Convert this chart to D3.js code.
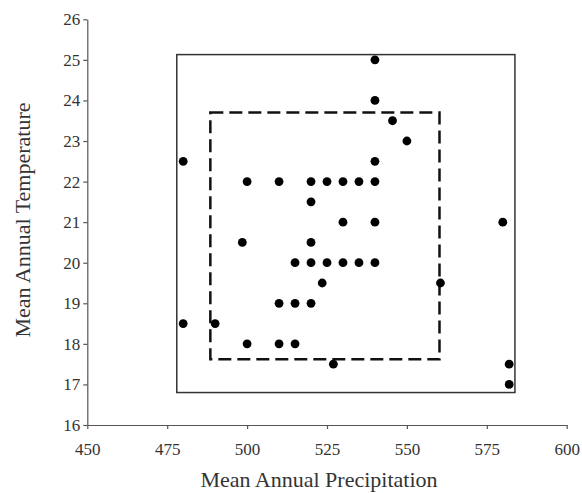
<!DOCTYPE html>
<html><head><meta charset="utf-8">
<script src="https://cdn.jsdelivr.net/npm/d3@7"></script>
<style>body{margin:0;background:#fff}</style>
</head><body>
<svg id="c" width="582" height="493"></svg>
<script>
const precip = [540,540,545.5,550,480,540,500,510,520,525,530,535,540,520,530,540,580,498.5,520,515,520,525,530,535,540,523.5,560.5,510,515,520,480,490,500,510,515,527,582,582];
const temp   = [25,24,23.5,23,22.5,22.5,22,22,22,22,22,22,22,21.5,21,21,21,20.5,20.5,20,20,20,20,20,20,19.5,19.5,19,19,19,18.5,18.5,18,18,18,17.5,17.5,17];
const xTicks = [450,475,500,525,550,575,600];
const yTicks = [16,17,18,19,20,21,22,23,24,25,26];
const solidBox = {x0:478, x1:583.8, y0:16.8, y1:25.13};
const dashedBox = {x0:488.5, x1:560.2, y0:17.62, y1:23.7};

const svg = d3.select("#c");
const x = d3.scaleLinear().domain([450,600]).range([87.3,566.7]);
const y = d3.scaleLinear().domain([16,26]).range([425,19.3]);
const font = "'Liberation Serif','Times New Roman',serif";

const xa = svg.append("g").attr("transform",`translate(0,${y(16)})`)
  .call(d3.axisBottom(x).tickValues(xTicks).tickSize(4).tickSizeOuter(0).tickPadding(14));
const ya = svg.append("g").attr("transform",`translate(${x(450)},0)`)
  .call(d3.axisLeft(y).tickValues(yTicks).tickSize(4).tickSizeOuter(0).tickPadding(3));
[xa,ya].forEach(a=>{
  a.attr("font-family",font).attr("font-size",17);
  a.select(".domain").attr("stroke","#555").attr("stroke-width",1.2);
  a.selectAll(".tick line").attr("stroke","#555").attr("stroke-width",1.2);
  a.selectAll(".tick text").attr("fill","#333").style("font-family",font).style("font-size","17px");
});

svg.append("rect")
  .attr("x",x(solidBox.x0)).attr("y",y(solidBox.y1))
  .attr("width",x(solidBox.x1)-x(solidBox.x0)).attr("height",y(solidBox.y0)-y(solidBox.y1))
  .attr("fill","none").attr("stroke","#333").attr("stroke-width",1.5);
svg.append("rect")
  .attr("x",x(dashedBox.x0)).attr("y",y(dashedBox.y1))
  .attr("width",x(dashedBox.x1)-x(dashedBox.x0)).attr("height",y(dashedBox.y0)-y(dashedBox.y1))
  .attr("fill","none").attr("stroke","#111").attr("stroke-width",2.5).attr("stroke-dasharray","13,6");

svg.append("g").selectAll("circle").data(precip.map((p,i)=>[p,temp[i]])).join("circle")
  .attr("cx",d=>x(d[0])).attr("cy",d=>y(d[1])).attr("r",4.4).attr("fill","#000");

svg.append("text").attr("x",319).attr("y",487).attr("text-anchor","middle")
  .style("font-family",font).style("font-size","22px").attr("fill","#333").text("Mean Annual Precipitation");
svg.append("text").attr("transform","translate(30,220) rotate(-90)").attr("text-anchor","middle")
  .style("font-family",font).style("font-size","22px").attr("fill","#333").text("Mean Annual Temperature");
</script>
</body></html>
